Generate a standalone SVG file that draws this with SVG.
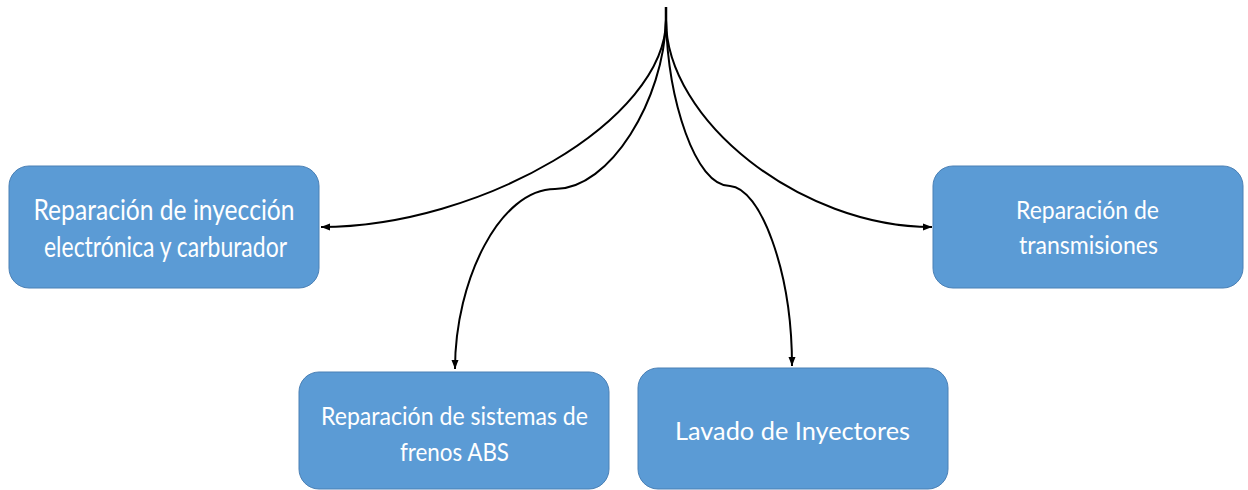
<svg xmlns="http://www.w3.org/2000/svg" width="1248" height="490" viewBox="0 0 1248 490">
  <defs>
    <marker id="arrow" markerWidth="10" markerHeight="10" refX="9" refY="5" orient="auto" markerUnits="userSpaceOnUse">
      <path d="M0,1.5 L9,5 L0,8.5 Z" fill="#000"/>
    </marker>
    <style>
      .box { fill: #5B9BD5; stroke: #4A80B5; stroke-width: 1; }
      .lbl { fill: #FFFFFF; font-family: Lato, "Open Sans", "Liberation Sans", sans-serif; text-anchor: middle; }
      .conn { fill: none; stroke: #000; stroke-width: 2; marker-end: url(#arrow); }
    </style>
  </defs>
  <rect width="1248" height="490" fill="#FFFFFF"/>

  <g id="connectors">
    <path d="M666,7 L666,30" fill="none" stroke="#000" stroke-width="2.5"/>
    <path class="conn" d="M666,20 C666,120 480,227 321,227"/>
    <path class="conn" d="M666,20 C664,100 610,189 555,189 C500,189 455,280 455,369"/>
    <path class="conn" d="M666,20 C668,100 695,186 730,186 C760,188 792,270 792,366"/>
    <path class="conn" d="M666,20 C666,120 800,227 932,227"/>
  </g>

  <g id="node-inyeccion">
    <rect class="box" x="9" y="166" width="310" height="122" rx="20" ry="20"/>
    <text class="lbl" x="164" y="220" font-size="28" textLength="261" lengthAdjust="spacingAndGlyphs">Reparación de inyección</text>
    <text class="lbl" x="165.5" y="257" font-size="28" textLength="243" lengthAdjust="spacingAndGlyphs">electrónica y carburador</text>
  </g>

  <g id="node-transmisiones">
    <rect class="box" x="933" y="166" width="310" height="122" rx="20" ry="20"/>
    <text class="lbl" x="1087.5" y="219" font-size="24.5" textLength="143" lengthAdjust="spacingAndGlyphs">Reparación de</text>
    <text class="lbl" x="1088.5" y="254" font-size="24.5" textLength="139" lengthAdjust="spacingAndGlyphs">transmisiones</text>
  </g>

  <g id="node-frenos">
    <rect class="box" x="299" y="372" width="310" height="117" rx="20" ry="20"/>
    <text class="lbl" x="454.5" y="425" font-size="24.5" textLength="267" lengthAdjust="spacingAndGlyphs">Reparación de sistemas de</text>
    <text class="lbl" x="454.5" y="461" font-size="24.5" textLength="109" lengthAdjust="spacingAndGlyphs">frenos ABS</text>
  </g>

  <g id="node-lavado">
    <rect class="box" x="638" y="368" width="310" height="121" rx="20" ry="20"/>
    <text class="lbl" x="792.5" y="440" font-size="25" textLength="235" lengthAdjust="spacingAndGlyphs">Lavado de Inyectores</text>
  </g>
</svg>
